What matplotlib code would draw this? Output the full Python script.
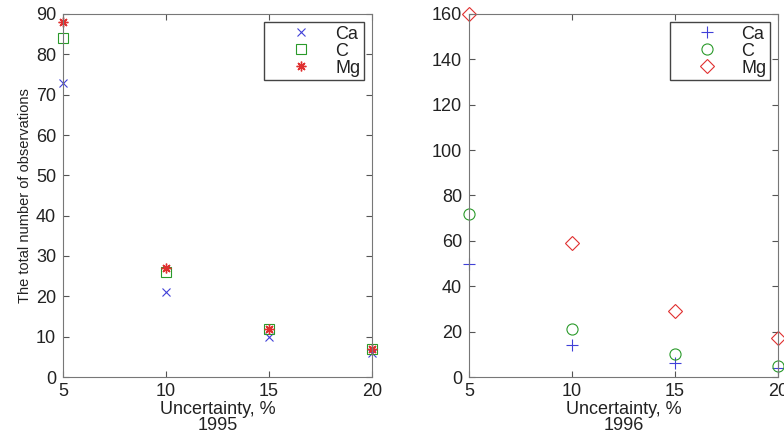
import matplotlib.pyplot as plt

plt.rcParams['font.family'] = ['Liberation Sans', 'DejaVu Sans']

uncertainty = [5, 10, 15, 20]

ca_1995 = [73, 21, 10, 6]
c_1995 = [84, 26, 12, 7]
mg_1995 = [88, 27, 12, 7]

ca_1996 = [50, 14, 6, 4]
c_1996 = [72, 21, 10, 5]
mg_1996 = [160, 59, 29, 17]

W, H = 784, 434
fig = plt.figure(figsize=(W / 100, H / 100), dpi=100)
ax1 = fig.add_axes([63 / W, 1 - 377 / H, 309 / W, 363 / H])
ax2 = fig.add_axes([469 / W, 1 - 377 / H, 309 / W, 363 / H])


def style(ax, ymax, step, year):
    ax.set_xlim(5, 20)
    ax.set_ylim(0, ymax)
    ax.set_xticks(uncertainty)
    ax.set_yticks(range(0, ymax + 1, step))
    ax.tick_params(direction='in', top=True, right=True, labelsize=13,
                   length=4, color='#555555', labelcolor='#222222')
    ax.tick_params(axis='x', pad=4)
    ax.tick_params(axis='y', pad=5)
    for s in ax.spines.values():
        s.set_color('#777777')
    ax.set_xlabel('Uncertainty, %\n' + year, fontsize=13, color='#222222',
                  labelpad=1, linespacing=0.95)
    leg = ax.legend(loc='upper right', fontsize=13, frameon=True,
                    fancybox=False, edgecolor='#444444', handletextpad=0.05,
                    borderpad=0.2, labelspacing=0.0, handlelength=3.7,
                    borderaxespad=0.45, framealpha=1)
    for t in leg.get_texts():
        t.set_color('#222222')


ax1.plot(uncertainty, ca_1995, 'x', color='#4040d8', ms=6, mew=0.8,
         label='Ca', clip_on=False)
ax1.plot(uncertainty, c_1995, 's', color='#2a9a2a', mfc='none', ms=7,
         mew=0.8, label='C', clip_on=False)
ax1.plot(uncertainty, mg_1995, marker=(8, 2, 0), ls='none', color='#e03030',
         ms=7, mew=1.0, label='Mg', clip_on=False)
style(ax1, 90, 10, '1995')
ax1.set_ylabel('The total number of observations', fontsize=10.5,
               color='#222222', labelpad=3)

ax2.plot(uncertainty, ca_1996, '+', color='#4040d8', ms=8, mew=0.8,
         label='Ca', clip_on=False)
ax2.plot(uncertainty, c_1996, 'o', color='#2a9a2a', mfc='none', ms=8,
         mew=0.8, label='C', clip_on=False)
ax2.plot(uncertainty, mg_1996, 'D', color='#e03030', mfc='none', ms=7,
         mew=0.8, label='Mg', clip_on=False)
style(ax2, 160, 20, '1996')

fig.savefig('out.png', dpi=100)
